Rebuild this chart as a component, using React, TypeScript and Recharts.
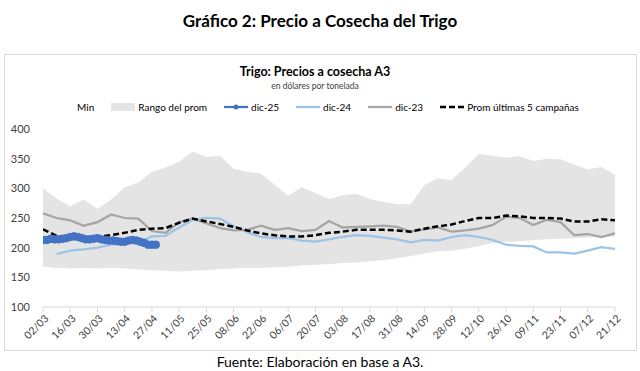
import { Area, ComposedChart, Line, XAxis, YAxis } from "recharts";

const FONT = "Lato, 'Open Sans', sans-serif";

// fechas del eje (cada 14 días desde el 02/03)
const TICK_LABELS = [
	"02/03", "16/03", "30/03", "13/04", "27/04", "11/05", "25/05", "08/06",
	"22/06", "06/07", "20/07", "03/08", "17/08", "31/08", "14/09", "28/09",
	"12/10", "26/10", "09/11", "23/11", "07/12", "21/12",
];
const TICK_STEP = 14;

// series semanales desde el 02/03 (USD/t)
const WEEK = 7;
const RANGE_MIN = [
	168, 166, 165, 166, 165, 166, 165, 163, 162, 161, 160, 161, 162, 164, 165, 166,
	166, 167, 168, 170, 171, 172, 174, 175, 177, 179, 182, 186, 190, 194, 195, 198,
	203, 208, 210, 211, 213, 214, 215, 216, 217, 218, 219,
];
const RANGE_MAX = [
	300, 283, 270, 281, 265, 281, 302, 310, 328, 335, 345, 362, 353, 355, 333, 328,
	325, 306, 287, 302, 292, 282, 288, 291, 282, 277, 273, 273, 305, 317, 314, 335,
	358, 355, 352, 354, 346, 350, 349, 340, 332, 336, 323,
];
const PROM = [
	231, 220, 216, 216, 218, 221, 225, 230, 232, 233, 242, 249, 244, 240, 235, 229,
	224, 221, 219, 219, 221, 225, 227, 230, 230, 230, 229, 227, 232, 236, 239, 245,
	250, 250, 254, 253, 250, 250, 249, 244, 244, 248, 246,
];
const DIC23 = [
	258, 250, 246, 237, 243, 256, 250, 249, 228, 225, 243, 249, 241, 233, 229, 230,
	237, 230, 233, 228, 230, 245, 234, 235, 236, 237, 235, 227, 231, 234, 227, 229,
	232, 238, 252, 250, 238, 247, 243, 221, 223, 218, 224,
];
const DIC24 = [
	null, 189, 195, 197, 200, 205, 208, 209, 219, 220, 234, 247, 250, 249, 236, 226,
	218, 216, 216, 212, 210, 214, 218, 221, 220, 217, 214, 209, 213, 212, 218, 221,
	218, 213, 205, 203, 202, 192, 192, 190, 195, 201, 198,
];

// dic-25: cada 2 días desde el 02/03
const DIC25_STEP = 2;
const DIC25 = [
	213, 213, 215, 214, 214, 215, 216, 218, 219, 218, 216, 214, 214, 215, 216, 214,
	213, 212, 212, 211, 210, 210, 212, 213, 212, 210, 208, 205, 205, 205,
];

const LEGEND = [
	{ name: "Min", kind: "none", color: "transparent" },
	{ name: "Rango del prom", kind: "rect", color: "#e4e4e4" },
	{ name: "dic-25", kind: "marker", color: "#4472c4" },
	{ name: "dic-24", kind: "line", color: "#9dc3e6" },
	{ name: "dic-23", kind: "line", color: "#a5a5a5" },
	{ name: "Prom últimas 5 campañas", kind: "dash", color: "#000" },
];

const rows = RANGE_MIN.map((min, i) => ({
	day: i * WEEK,
	range: [min, RANGE_MAX[i]],
	prom: PROM[i],
	dic23: DIC23[i],
	dic24: DIC24[i],
}));
const dic25Rows = DIC25.map((v, i) => ({ day: i * DIC25_STEP, dic25: v }));
const tickDays = TICK_LABELS.map((_, i) => i * TICK_STEP);

function DateTick({ x, y, payload }: any) {
	const label = TICK_LABELS[Math.round(payload.value / TICK_STEP)];
	return (
		<g transform={`translate(${x + 1},${y})`}>
			<text
				x={0}
				y={0}
				dy="0.7em"
				textAnchor="end"
				transform="rotate(-45)"
				fontSize={10.5}
				fontFamily={FONT}
				fill="#404040"
			>
				{label}
			</text>
		</g>
	);
}

function LegendSymbol({ kind, color }: { kind: string; color: string }) {
	return (
		<svg width={24} height={10} style={{ marginRight: 3 }}>
			{kind === "rect" && <rect x={0} y={1} width={24} height={8} fill={color} />}
			{(kind === "line" || kind === "marker") && (
				<line x1={0} y1={5} x2={24} y2={5} stroke={color} strokeWidth={2.25} />
			)}
			{kind === "marker" && <circle cx={12} cy={5} r={2.5} fill={color} />}
			{kind === "dash" && (
				<line x1={0} y1={5} x2={24} y2={5} stroke={color} strokeWidth={2.5} strokeDasharray="6 3" />
			)}
		</svg>
	);
}

export default function App() {
	return (
		<div
			style={{
				position: "relative",
				width: 640,
				height: 371,
				background: "#fff",
				fontFamily: FONT,
				color: "#000",
				overflow: "hidden",
			}}
		>
			<style>{"body{margin:0}"}</style>
			<div
				style={{
					position: "absolute",
					top: 10,
					left: 0,
					width: 640,
					textAlign: "center",
					fontWeight: 700,
					fontSize: 17,
					lineHeight: "21px",
				}}
			>
				Gráfico 2: Precio a Cosecha del Trigo
			</div>
			<div
				style={{
					position: "absolute",
					left: 4,
					top: 54,
					width: 631,
					height: 295,
					border: "1px solid #d9d9d9",
				}}
			/>
			<div
				style={{
					position: "absolute",
					top: 64,
					left: 0,
					width: 630,
					textAlign: "center",
					fontWeight: 700,
					fontSize: 12.5,
					lineHeight: "15px",
				}}
			>
				Trigo: Precios a cosecha A3
			</div>
			<div
				style={{
					position: "absolute",
					top: 81,
					left: 0,
					width: 630,
					textAlign: "center",
					fontSize: 8.5,
					lineHeight: "10px",
					color: "#404040",
				}}
			>
				en dólares por tonelada
			</div>
			<div
				style={{
					position: "absolute",
					top: 101,
					left: 0,
					width: 646,
					display: "flex",
					justifyContent: "center",
					alignItems: "center",
					fontSize: 10,
					lineHeight: "12px",
				}}
			>
				{LEGEND.map((item) => (
					<div key={item.name} style={{ display: "flex", alignItems: "center", marginRight: 17 }}>
						<LegendSymbol kind={item.kind} color={item.color} />
						<span>{item.name}</span>
					</div>
				))}
			</div>
			<div style={{ position: "absolute", top: 0, left: 0 }}>
				<ComposedChart
					width={640}
					height={371}
					data={rows}
					margin={{ top: 129, right: 25, bottom: 23, left: 0 }}
				>
					<XAxis
						type="number"
						dataKey="day"
						domain={[0, 294]}
						ticks={tickDays}
						interval={0}
						allowDataOverflow
						height={41}
						tick={<DateTick />}
						tickSize={5}
						tickMargin={2}
						axisLine={{ stroke: "#d9d9d9" }}
						tickLine={{ stroke: "#d9d9d9" }}
					/>
					<YAxis
						type="number"
						domain={[100, 400]}
						ticks={[100, 150, 200, 250, 300, 350, 400]}
						width={43}
						axisLine={false}
						tickLine={false}
						tickSize={6}
						tickMargin={7}
						tick={{ fontSize: 11, fill: "#404040", fontFamily: FONT }}
					/>
					<Area
						type="linear"
						dataKey="range"
						fill="#e4e4e4"
						fillOpacity={1}
						stroke="none"
						activeDot={false}
						isAnimationActive={false}
					/>
					<Line
						data={dic25Rows}
						type="linear"
						dataKey="dic25"
						stroke="#4472c4"
						strokeWidth={2.25}
						dot={{ r: 3.8, fill: "#4472c4", stroke: "#4472c4", strokeWidth: 1 }}
						activeDot={false}
						isAnimationActive={false}
					/>
					<Line
						type="linear"
						dataKey="dic24"
						stroke="#9dc3e6"
						strokeWidth={2.25}
						dot={false}
						activeDot={false}
						isAnimationActive={false}
					/>
					<Line
						type="linear"
						dataKey="dic23"
						stroke="#a5a5a5"
						strokeWidth={2.25}
						dot={false}
						activeDot={false}
						isAnimationActive={false}
					/>
					<Line
						type="linear"
						dataKey="prom"
						stroke="#000"
						strokeWidth={2.5}
						strokeDasharray="6 3"
						dot={false}
						activeDot={false}
						isAnimationActive={false}
					/>
				</ComposedChart>
			</div>
			<div
				style={{
					position: "absolute",
					top: 353,
					left: 0,
					width: 640,
					textAlign: "center",
					fontSize: 14,
					lineHeight: "17px",
				}}
			>
				Fuente: Elaboración en base a A3.
			</div>
		</div>
	);
}
